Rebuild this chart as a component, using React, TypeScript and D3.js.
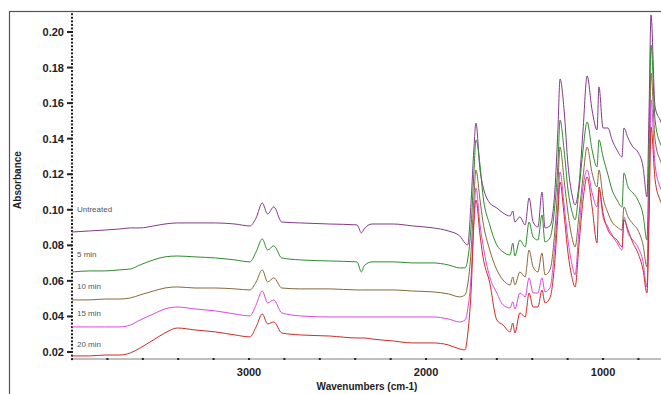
import React, { useEffect, useRef } from 'react';
import * as d3 from 'd3';

// wavenumber grid (cm-1), shared by every spectrum
const wavenumbers = [4000, 3900, 3815, 3730, 3670, 3615, 3540, 3475, 3405, 3305, 3190, 3080, 2995, 2960, 2925, 2895, 2860, 2815, 2710, 2545, 2390, 2365, 2350, 2305, 2185, 2075, 1960, 1875, 1810, 1780, 1765, 1745, 1730, 1718, 1695, 1680, 1640, 1600, 1565, 1525, 1510, 1498, 1470, 1440, 1418, 1395, 1368, 1345, 1328, 1300, 1272, 1255, 1243, 1220, 1198, 1175, 1158, 1136, 1113, 1090, 1062, 1034, 1023, 1000, 972, 949, 921, 893, 882, 859, 831, 803, 774, 752, 740, 729, 706, 678, 650];

const untreated = [0.0875, 0.0881, 0.0886, 0.0892, 0.0898, 0.0898, 0.0909, 0.0920, 0.0926, 0.0926, 0.0926, 0.0920, 0.0909, 0.0954, 0.1038, 0.0976, 0.1016, 0.0931, 0.0926, 0.0920, 0.0915, 0.0870, 0.0892, 0.0920, 0.0920, 0.0909, 0.0898, 0.0881, 0.0853, 0.0813, 0.0802, 0.1055, 0.1336, 0.1488, 0.1224, 0.1140, 0.1038, 0.1010, 0.0982, 0.0965, 0.0993, 0.0931, 0.0960, 0.0915, 0.1066, 0.0931, 0.0903, 0.1100, 0.0898, 0.0909, 0.1111, 0.1449, 0.1736, 0.1561, 0.1252, 0.1083, 0.1027, 0.1140, 0.1449, 0.1753, 0.1561, 0.1449, 0.1691, 0.1460, 0.1460, 0.1393, 0.1336, 0.1297, 0.1460, 0.1404, 0.1353, 0.1325, 0.1241, 0.1072, 0.1561, 0.2096, 0.1578, 0.1505, 0.1449];

const min5 = [0.0650, 0.0656, 0.0656, 0.0662, 0.0667, 0.0690, 0.0718, 0.0735, 0.0740, 0.0735, 0.0729, 0.0718, 0.0707, 0.0763, 0.0836, 0.0774, 0.0797, 0.0729, 0.0718, 0.0712, 0.0707, 0.0650, 0.0684, 0.0707, 0.0707, 0.0701, 0.0701, 0.0690, 0.0673, 0.0673, 0.0718, 0.0915, 0.1196, 0.1393, 0.1252, 0.1095, 0.0915, 0.0802, 0.0763, 0.0746, 0.0813, 0.0740, 0.0830, 0.0791, 0.0931, 0.0847, 0.0830, 0.0971, 0.0819, 0.0842, 0.1027, 0.1252, 0.1505, 0.1336, 0.1111, 0.0988, 0.0943, 0.1111, 0.1336, 0.1494, 0.1336, 0.1241, 0.1393, 0.1297, 0.1196, 0.1111, 0.1055, 0.1016, 0.1207, 0.1128, 0.1095, 0.1055, 0.0971, 0.0830, 0.1336, 0.1927, 0.1505, 0.1376, 0.1336];

const min10 = [0.0493, 0.0493, 0.0498, 0.0498, 0.0504, 0.0521, 0.0543, 0.0560, 0.0566, 0.0560, 0.0560, 0.0555, 0.0549, 0.0594, 0.0662, 0.0594, 0.0617, 0.0560, 0.0555, 0.0555, 0.0549, 0.0549, 0.0549, 0.0549, 0.0549, 0.0543, 0.0538, 0.0527, 0.0510, 0.0521, 0.0577, 0.0774, 0.1055, 0.1224, 0.1055, 0.0943, 0.0774, 0.0662, 0.0605, 0.0577, 0.0622, 0.0577, 0.0650, 0.0622, 0.0774, 0.0678, 0.0650, 0.0757, 0.0634, 0.0662, 0.0886, 0.1140, 0.1353, 0.1168, 0.0982, 0.0842, 0.0791, 0.0971, 0.1185, 0.1353, 0.1207, 0.1128, 0.1224, 0.1072, 0.0982, 0.0931, 0.0903, 0.0886, 0.1016, 0.0960, 0.0920, 0.0886, 0.0802, 0.0678, 0.1168, 0.1769, 0.1393, 0.1280, 0.1235];

const min15 = [0.0341, 0.0341, 0.0341, 0.0341, 0.0352, 0.0380, 0.0414, 0.0442, 0.0453, 0.0442, 0.0431, 0.0414, 0.0403, 0.0465, 0.0543, 0.0476, 0.0493, 0.0420, 0.0403, 0.0397, 0.0397, 0.0397, 0.0397, 0.0397, 0.0397, 0.0397, 0.0397, 0.0386, 0.0369, 0.0380, 0.0437, 0.0634, 0.0943, 0.1123, 0.0915, 0.0813, 0.0622, 0.0532, 0.0465, 0.0448, 0.0482, 0.0442, 0.0532, 0.0510, 0.0617, 0.0532, 0.0532, 0.0617, 0.0538, 0.0560, 0.0802, 0.1027, 0.1213, 0.1027, 0.0830, 0.0690, 0.0634, 0.0886, 0.1128, 0.1224, 0.1095, 0.1016, 0.1111, 0.0960, 0.0903, 0.0858, 0.0813, 0.0774, 0.0960, 0.0870, 0.0830, 0.0791, 0.0707, 0.0566, 0.1055, 0.1618, 0.1252, 0.1128, 0.1083];

const min20 = [0.0178, 0.0178, 0.0183, 0.0183, 0.0195, 0.0223, 0.0268, 0.0307, 0.0335, 0.0324, 0.0313, 0.0296, 0.0285, 0.0341, 0.0414, 0.0358, 0.0369, 0.0307, 0.0296, 0.0290, 0.0279, 0.0279, 0.0279, 0.0273, 0.0262, 0.0251, 0.0251, 0.0240, 0.0217, 0.0212, 0.0296, 0.0549, 0.0915, 0.1055, 0.0858, 0.0746, 0.0588, 0.0380, 0.0352, 0.0313, 0.0363, 0.0307, 0.0420, 0.0397, 0.0532, 0.0453, 0.0453, 0.0549, 0.0476, 0.0504, 0.0718, 0.0971, 0.1156, 0.0971, 0.0757, 0.0617, 0.0566, 0.0802, 0.1055, 0.1185, 0.1016, 0.0813, 0.1128, 0.0982, 0.0886, 0.0853, 0.0830, 0.0791, 0.0943, 0.0886, 0.0813, 0.0757, 0.0662, 0.0532, 0.0943, 0.1466, 0.1168, 0.1055, 0.1010];

const seriesNames = ['Untreated', '5 min', '10 min', '15 min', '20 min'];
const seriesValues = [untreated, min5, min10, min15, min20];
const seriesColors = ['#823a86', '#2f8a2f', '#86693a', '#dc48dc', '#cc2a2a'];
// absorbance where each label sits (left of the spectra)
const labelLevels = [0.0990, 0.0735, 0.0555, 0.0403, 0.0230];

const xTicks = [3000, 2000, 1000];
const yTicks = [0.02, 0.04, 0.06, 0.08, 0.10, 0.12, 0.14, 0.16, 0.18, 0.20];

export default function App() {
  const ref = useRef<SVGSVGElement>(null);

  useEffect(() => {
    const width = 661, height = 394;
    const svg = d3.select(ref.current);
    svg.selectAll('*').remove();

    const x = d3.scaleLinear().domain([4000, 650]).range([72, 665]);
    const y = d3.scaleLinear().domain([0.20, 0.02]).range([32, 352]);
    const axisY = 359;

    // frame
    svg.append('rect')
      .attr('x', 9.5).attr('y', 11.5)
      .attr('width', width).attr('height', height)
      .attr('fill', 'none').attr('stroke', '#555').attr('stroke-width', 1.2);

    svg.append('clipPath').attr('id', 'plot-clip')
      .append('rect').attr('x', 72).attr('y', 12).attr('width', width - 72).attr('height', axisY - 12);

    // x axis: gray line with dotted ticks every 200
    svg.append('line')
      .attr('x1', 72).attr('x2', width).attr('y1', axisY).attr('y2', axisY)
      .attr('stroke', '#aaa').attr('stroke-width', 1.5);
    const minorX = d3.range(3800, 600, -200);
    svg.selectAll('.xdot').data(minorX).enter().append('rect')
      .attr('x', d => x(d) - 1).attr('y', axisY - 1)
      .attr('width', 2).attr('height', 2).attr('fill', '#222');
    svg.selectAll('.xlab').data(xTicks).enter().append('text')
      .attr('x', d => x(d)).attr('y', axisY + 17)
      .attr('text-anchor', 'middle')
      .style('font', 'bold 11px Arial, "Liberation Sans", sans-serif')
      .attr('fill', '#222')
      .text(d => d);

    // y axis: dotted minor ticks
    const minorY = d3.range(0.016, 0.2115, 0.002);
    svg.selectAll('.ydot').data(minorY).enter().append('rect')
      .attr('x', 71).attr('y', d => y(d) - 1)
      .attr('width', 2).attr('height', 2).attr('fill', '#222');
    svg.selectAll('.ytick').data(yTicks).enter().append('line')
      .attr('x1', 67).attr('x2', 72).attr('y1', d => y(d)).attr('y2', d => y(d))
      .attr('stroke', '#222').attr('stroke-width', 2);
    svg.selectAll('.ylab').data(yTicks).enter().append('text')
      .attr('x', 64).attr('y', d => y(d) + 4)
      .attr('text-anchor', 'end')
      .style('font', 'bold 11px Arial, "Liberation Sans", sans-serif')
      .attr('fill', '#222')
      .text(d => d3.format('.2f')(d));

    // axis titles
    svg.append('text')
      .attr('transform', 'translate(21,' + 180 + ') rotate(-90)')
      .attr('text-anchor', 'middle')
      .style('font', 'bold 10px Arial, "Liberation Sans", sans-serif')
      .attr('fill', '#222')
      .text('Absorbance');
    svg.append('text')
      .attr('x', 367).attr('y', 390)
      .attr('text-anchor', 'middle')
      .style('font', 'bold 10px Arial, "Liberation Sans", sans-serif')
      .attr('fill', '#222')
      .text('Wavenumbers (cm-1)');

    // spectra
    const line = d3.line<number>()
      .x((d, i) => x(wavenumbers[i]))
      .y(d => y(d))
      .curve(d3.curveMonotoneX);
    const g = svg.append('g').attr('clip-path', 'url(#plot-clip)');
    seriesValues.forEach((vals, i) => {
      g.append('path')
        .attr('d', line(vals))
        .attr('fill', 'none')
        .attr('stroke', seriesColors[i])
        .attr('stroke-width', 1)
        .attr('stroke-linejoin', 'round');
    });

    // series labels
    svg.selectAll('.slab').data(seriesNames).enter().append('text')
      .attr('x', 77).attr('y', (d, i) => y(labelLevels[i]))
      .style('font', '8px Arial, "Liberation Sans", sans-serif')
      .attr('fill', '#555')
      .text(d => d);
  }, []);

  return (
    <svg ref={ref} width={661} height={394}
      style={{ position: 'absolute', left: 0, top: 0, background: '#fff' }} />
  );
}
